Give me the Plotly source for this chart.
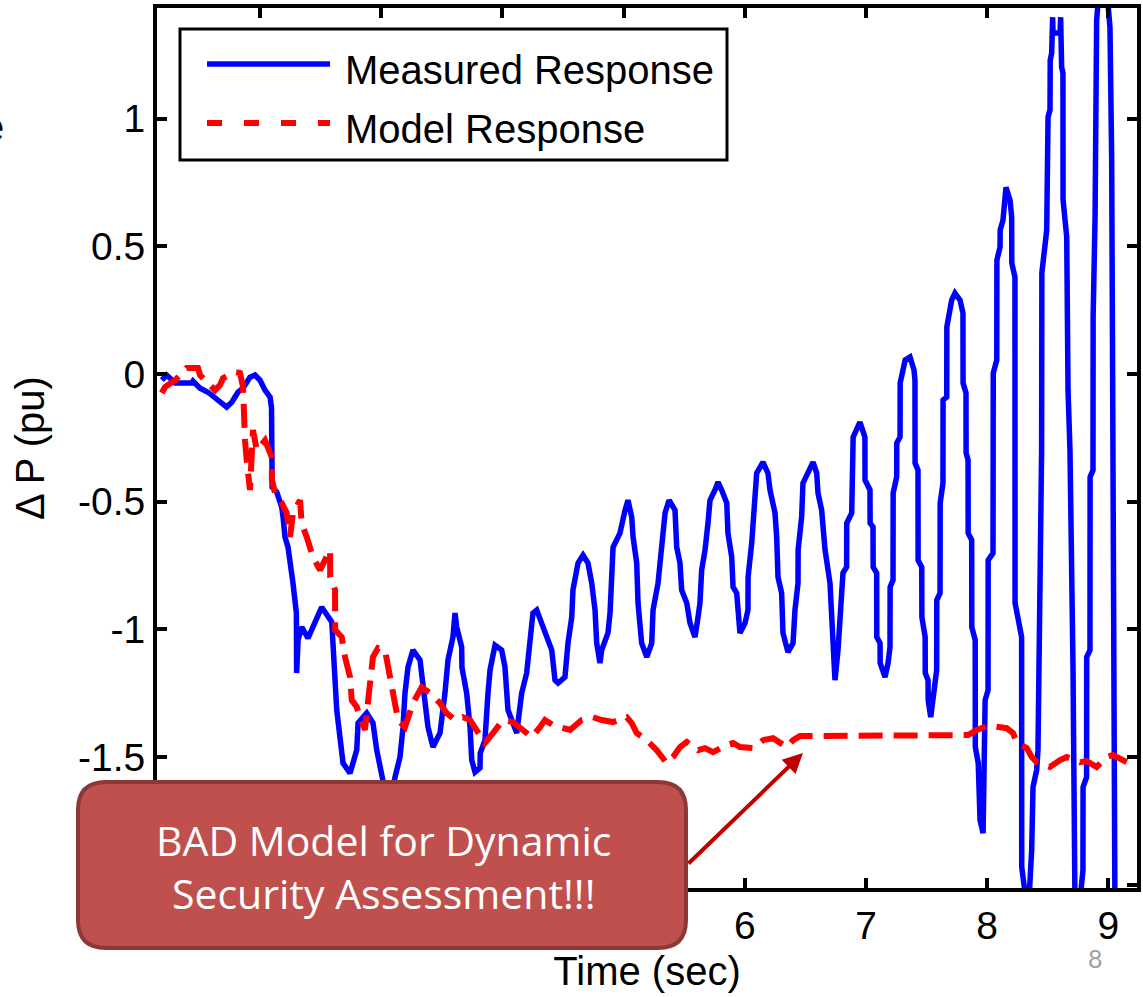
import plotly.graph_objects as go

# ---------------- data (time in s, delta P in pu) ----------------
MEASURED = [
    (1.19, -0.024), (1.23, -0.004), (1.30, -0.035), (1.436, -0.035), (1.447, -0.027), (1.505, -0.055),
    (1.571, -0.071), (1.725, -0.129), (1.767, -0.110), (1.818, -0.071), (1.860, -0.055), (1.917, -0.012),
    (1.959, -0.004), (2.000, -0.024), (2.041, -0.063), (2.083, -0.090), (2.095, -0.133), (2.097, -0.270),
    (2.100, -0.443), (2.138, -0.462), (2.179, -0.521), (2.190, -0.560), (2.206, -0.638), (2.231, -0.678),
    (2.248, -0.729), (2.272, -0.819), (2.300, -0.936), (2.302, -1.171), (2.314, -1.042), (2.344, -0.991),
    (2.396, -1.034), (2.509, -0.913), (2.592, -0.971), (2.602, -1.069), (2.633, -1.316), (2.685, -1.524),
    (2.743, -1.563), (2.798, -1.473), (2.809, -1.367), (2.880, -1.328), (2.932, -1.367), (2.963, -1.473),
    (3.015, -1.590), (3.064, -1.708), (3.114, -1.579), (3.155, -1.500), (3.180, -1.383), (3.196, -1.250),
    (3.221, -1.148), (3.262, -1.081), (3.320, -1.120), (3.334, -1.187), (3.361, -1.265), (3.386, -1.383),
    (3.427, -1.461), (3.485, -1.406), (3.526, -1.250), (3.551, -1.120), (3.592, -1.030), (3.609, -0.936),
    (3.623, -0.991), (3.664, -1.069), (3.666, -1.148), (3.705, -1.250), (3.733, -1.383), (3.747, -1.512),
    (3.774, -1.559), (3.815, -1.543), (3.817, -1.485), (3.856, -1.434), (3.881, -1.250), (3.898, -1.159),
    (3.939, -1.062), (3.994, -1.081), (4.021, -1.148), (4.046, -1.316), (4.118, -1.406), (4.159, -1.250),
    (4.200, -1.171), (4.228, -1.054), (4.252, -0.936), (4.283, -0.924), (4.335, -0.991), (4.365, -1.042),
    (4.407, -1.081), (4.434, -1.199), (4.459, -1.210), (4.516, -1.187), (4.541, -1.054), (4.572, -0.952),
    (4.582, -0.846), (4.624, -0.740), (4.665, -0.709), (4.706, -0.740), (4.737, -0.819), (4.764, -0.924),
    (4.778, -1.054), (4.805, -1.132), (4.819, -1.081), (4.871, -1.014), (4.888, -0.936), (4.913, -0.678),
    (4.970, -0.623), (5.012, -0.533), (5.036, -0.494), (5.067, -0.560), (5.078, -0.638), (5.108, -0.740),
    (5.119, -0.897), (5.149, -1.054), (5.191, -1.108), (5.232, -1.054), (5.243, -0.924), (5.284, -0.819),
    (5.300, -0.729), (5.325, -0.623), (5.342, -0.544), (5.375, -0.494), (5.424, -0.533), (5.438, -0.678),
    (5.465, -0.740), (5.479, -0.846), (5.521, -0.897), (5.548, -0.975), (5.589, -1.030), (5.614, -0.952),
    (5.630, -0.897), (5.644, -0.768), (5.672, -0.689), (5.696, -0.584), (5.713, -0.494), (5.754, -0.454),
    (5.779, -0.423), (5.809, -0.454), (5.851, -0.505), (5.861, -0.623), (5.892, -0.717), (5.903, -0.834),
    (5.933, -0.858), (5.960, -1.014), (6.002, -0.975), (6.026, -0.924), (6.027, -0.795), (6.057, -0.662),
    (6.084, -0.494), (6.098, -0.388), (6.150, -0.345), (6.191, -0.388), (6.208, -0.454), (6.249, -0.544),
    (6.263, -0.638), (6.274, -0.795), (6.304, -0.858), (6.315, -1.014), (6.356, -1.089), (6.398, -1.054),
    (6.414, -0.924), (6.439, -0.819), (6.440, -0.689), (6.469, -0.560), (6.480, -0.427), (6.521, -0.388),
    (6.563, -0.345), (6.593, -0.388), (6.604, -0.466), (6.634, -0.533), (6.662, -0.689), (6.703, -0.819),
    (6.717, -0.952), (6.744, -1.199), (6.769, -1.081), (6.786, -0.952), (6.810, -0.779), (6.840, -0.756),
    (6.841, -0.584), (6.882, -0.544), (6.883, -0.388), (6.893, -0.364), (6.894, -0.247), (6.950, -0.188),
    (6.991, -0.247), (6.992, -0.415), (7.033, -0.454), (7.034, -0.584), (7.058, -0.599), (7.059, -0.756),
    (7.088, -0.779), (7.089, -1.030), (7.116, -1.054), (7.117, -1.132), (7.157, -1.187), (7.182, -1.132),
    (7.198, -1.069), (7.199, -0.834), (7.223, -0.807), (7.224, -0.466), (7.253, -0.403), (7.254, -0.270),
    (7.281, -0.247), (7.282, -0.035), (7.323, 0.055), (7.363, 0.067), (7.396, 0.016), (7.404, -0.024),
    (7.405, -0.349), (7.429, -0.376), (7.430, -0.729), (7.460, -0.756), (7.461, -0.952), (7.488, -1.030),
    (7.489, -1.171), (7.512, -1.199), (7.513, -1.277), (7.534, -1.344), (7.553, -1.277), (7.583, -1.159),
    (7.584, -0.885), (7.611, -0.858), (7.612, -0.505), (7.635, -0.427), (7.636, -0.102), (7.666, -0.090),
    (7.667, 0.184), (7.693, 0.239), (7.707, 0.290), (7.734, 0.317), (7.776, 0.290), (7.800, 0.239),
    (7.801, -0.035), (7.825, -0.074), (7.826, -0.309), (7.842, -0.337), (7.843, -0.623), (7.872, -0.650),
    (7.873, -0.991), (7.901, -1.042), (7.902, -1.461), (7.926, -1.524), (7.941, -1.747), (7.966, -1.798),
    (7.982, -1.461), (7.983, -1.277), (8.007, -1.238), (8.008, -0.729), (8.048, -0.701), (8.049, -0.415),
    (8.050, 0.004), (8.079, 0.055), (8.080, 0.447), (8.106, 0.497), (8.107, 0.564), (8.130, 0.603),
    (8.147, 0.682), (8.155, 0.732), (8.188, 0.682), (8.202, 0.615), (8.203, 0.435), (8.229, 0.380),
    (8.230, -0.897), (8.284, -1.030), (8.285, -1.931), (8.295, -1.970), (8.320, -2.06), (8.345, -2.06),
    (8.367, -1.864), (8.378, -1.618), (8.408, -1.551), (8.419, -1.473), (8.436, -0.952), (8.449, -0.298),
    (8.451, 0.396), (8.477, 0.486), (8.491, 0.564), (8.502, 1.007), (8.518, 1.034), (8.519, 1.101),
    (8.520, 1.230), (8.532, 1.257), (8.540, 1.398), (8.543, 1.336), (8.601, 1.336), (8.606, 1.398),
    (8.614, 1.203), (8.625, 1.179), (8.626, 0.682), (8.656, 0.537), (8.667, -0.063), (8.683, -0.298),
    (8.708, -1.148), (8.724, -2.06), (8.766, -2.06), (8.790, -1.943), (8.791, -1.618), (8.820, -1.579),
    (8.821, -1.108), (8.848, -1.081), (8.849, -0.403), (8.873, -0.376), (8.874, 0.223), (8.890, 0.615),
    (8.903, 1.387), (8.922, 1.50), (8.988, 1.50), (9.013, 1.359), (9.027, 0.850), (9.038, -0.286),
    (9.054, -2.10),
]

MODEL = [
    (1.19, -0.074), (1.216, -0.051), (1.299, -0.024), (1.395, 0.024), (1.488, 0.024), (1.505, -0.004),
    (1.587, -0.043), (1.629, -0.063), (1.670, -0.043), (1.695, -0.016), (1.794, 0.008), (1.835, 0.004),
    (1.860, -0.051), (1.862, -0.114), (1.865, -0.208), (1.876, -0.259), (1.890, -0.337), (1.917, -0.454),
    (1.942, -0.219), (1.973, -0.298), (2.041, -0.259), (2.097, -0.325), (2.098, -0.415), (2.124, -0.466),
    (2.179, -0.505), (2.220, -0.544), (2.248, -0.638), (2.272, -0.544), (2.330, -0.494), (2.344, -0.584),
    (2.385, -0.638), (2.437, -0.717), (2.495, -0.768), (2.550, -0.717), (2.578, -0.689), (2.579, -0.795),
    (2.619, -0.846), (2.620, -1.003), (2.674, -1.030), (2.701, -1.108), (2.743, -1.187), (2.757, -1.277),
    (2.798, -1.304), (2.866, -1.394), (2.880, -1.344), (2.908, -1.210), (2.932, -1.108), (2.974, -1.073),
    (3.031, -1.081), (3.056, -1.148), (3.097, -1.265), (3.139, -1.355), (3.196, -1.383), (3.262, -1.289),
    (3.334, -1.226), (3.403, -1.250), (3.485, -1.289), (3.540, -1.328), (3.609, -1.355), (3.675, -1.344),
    (3.733, -1.355), (3.815, -1.422), (3.856, -1.445), (3.922, -1.406), (4.005, -1.355), (4.087, -1.363),
    (4.145, -1.383), (4.242, -1.422), (4.310, -1.383), (4.351, -1.355), (4.417, -1.375), (4.500, -1.387),
    (4.558, -1.394), (4.654, -1.355), (4.748, -1.344), (4.819, -1.355), (4.913, -1.363), (5.026, -1.344),
    (5.067, -1.367), (5.108, -1.406), (5.191, -1.434), (5.273, -1.473), (5.356, -1.524), (5.408, -1.500),
    (5.465, -1.461), (5.521, -1.441), (5.614, -1.473), (5.672, -1.465), (5.738, -1.481), (5.851, -1.453),
    (5.903, -1.445), (5.960, -1.461), (6.068, -1.465), (6.150, -1.434), (6.233, -1.426), (6.346, -1.461),
    (6.398, -1.434), (6.455, -1.418), (7.842, -1.414), (7.913, -1.394), (7.996, -1.379), (8.048, -1.379),
    (8.161, -1.387), (8.213, -1.406), (8.244, -1.445), (8.326, -1.465), (8.367, -1.500), (8.408, -1.520),
    (8.518, -1.539), (8.601, -1.512), (8.656, -1.500), (8.708, -1.508), (8.766, -1.520), (8.821, -1.516),
    (8.903, -1.539), (8.985, -1.500), (9.038, -1.492), (9.151, -1.520),
]

X_TICKS = [2, 3, 4, 5, 6, 7, 8, 9]
# labels 2..5 sit behind the callout box in the reference, so they are left blank
X_TICK_TEXT = ["", "", "", "", "6", "7", "8", "9"]
Y_TICKS = [-2, -1.5, -1, -0.5, 0, 0.5, 1]
Y_TICK_TEXT = ["", "-1.5", "-1", "-0.5", "0", "0.5", "1"]
SERIES_NAMES = ["Measured Response", "Model Response"]
X_TITLE = "Time (sec)"
Y_TITLE = "\u0394 P (pu)"
CALLOUT = "BAD Model for Dynamic<br>Security Assessment!!!"
SLIDE_NO = "8"

# ---------------- layout geometry ----------------
W, H = 1143, 997
ML, MR, MT, MB = 157, 6, 8, 109
PW, PH = W - ML - MR, H - MT - MB
FONT = "Liberation Sans, Arial, sans-serif"


def fx(p):
    return (p - ML) / PW


def fy(p):
    return (H - MB - p) / PH


mt, mv = zip(*MEASURED)
dt, dv = zip(*MODEL)

fig = go.Figure()
fig.add_trace(go.Scatter(x=mt, y=mv, mode="lines", name=SERIES_NAMES[0],
                         line=dict(color="#0000FF", width=5.5), showlegend=False))
fig.add_trace(go.Scatter(x=dt, y=dv, mode="lines", name=SERIES_NAMES[1],
                         line=dict(color="#FF0000", width=6, dash="24px,11px"), showlegend=False))

axis_common = dict(showline=True, linecolor="black", linewidth=4, mirror="ticks",
                   ticks="inside", ticklen=10, tickwidth=4, tickcolor="black",
                   showgrid=False, zeroline=False,
                   tickfont=dict(family=FONT, size=39, color="black"))

fig.update_xaxes(range=[1.15, 9.236], tickvals=X_TICKS, ticktext=X_TICK_TEXT,
                 title=dict(text=X_TITLE, font=dict(family=FONT, size=40, color="black"), standoff=12),
                 **axis_common)
fig.update_yaxes(range=[-2.013, 1.434], tickvals=Y_TICKS, ticktext=Y_TICK_TEXT,
                 title=dict(text=Y_TITLE, font=dict(family=FONT, size=40, color="black"), standoff=22),
                 **axis_common)

shapes = []
# legend box
shapes.append(dict(type="rect", xref="paper", yref="paper", x0=fx(180), x1=fx(727), y0=fy(160), y1=fy(29),
                   fillcolor="white", line=dict(color="black", width=3), layer="above"))
shapes.append(dict(type="line", xref="paper", yref="paper", x0=fx(207), x1=fx(330), y0=fy(64), y1=fy(64),
                   line=dict(color="#0000FF", width=5.5), layer="above"))
shapes.append(dict(type="line", xref="paper", yref="paper", x0=fx(207), x1=fx(330), y0=fy(123), y1=fy(123),
                   line=dict(color="#FF0000", width=6, dash="15px,22px"), layer="above"))

# rounded callout box
x0, x1, yt, yb = fx(78), fx(686), fy(782), fy(948)
rx, ry = 28 / PW, 28 / PH
path = (f"M{x0+rx},{yt} L{x1-rx},{yt} Q{x1},{yt} {x1},{yt-ry} L{x1},{yb+ry} Q{x1},{yb} {x1-rx},{yb} "
        f"L{x0+rx},{yb} Q{x0},{yb} {x0},{yb+ry} L{x0},{yt-ry} Q{x0},{yt} {x0+rx},{yt} Z")
shapes.append(dict(type="path", xref="paper", yref="paper", path=path,
                   fillcolor="#C0504D", line=dict(color="#8C3836", width=4), layer="above"))

annotations = [
    dict(xref="paper", yref="paper", x=fx(343), y=fy(70), text=SERIES_NAMES[0], showarrow=False,
         xanchor="left", yanchor="middle", font=dict(family=FONT, size=40, color="black")),
    dict(xref="paper", yref="paper", x=fx(343), y=fy(129), text=SERIES_NAMES[1], showarrow=False,
         xanchor="left", yanchor="middle", font=dict(family=FONT, size=40, color="black")),
    dict(xref="paper", yref="paper", x=fx(383), y=fy(866), text=CALLOUT, showarrow=False,
         xanchor="center", yanchor="middle", align="center",
         font=dict(family="Open Sans, Lato, sans-serif", size=41, color="white")),
    dict(xref="paper", yref="paper", x=fx(803), y=fy(753), text="", showarrow=True,
         ax=-116, ay=112, arrowhead=2, arrowsize=1, arrowwidth=4, arrowcolor="#C00000"),
    dict(xref="paper", yref="paper", x=fx(1095), y=fy(958), text=SLIDE_NO, showarrow=False,
         xanchor="center", yanchor="middle",
         font=dict(family="Lato, Carlito, sans-serif", size=25, color="#A0A0A0")),
    dict(xref="paper", yref="paper", x=fx(6), y=fy(127), text="e", showarrow=False,
         xanchor="right", yanchor="middle", font=dict(family=FONT, size=40, color="black")),
]

fig.update_layout(width=W, height=H, margin=dict(l=ML, r=MR, t=MT, b=MB, autoexpand=False),
                  paper_bgcolor="white", plot_bgcolor="white", showlegend=False,
                  shapes=shapes, annotations=annotations)

fig.write_html("out.html")
